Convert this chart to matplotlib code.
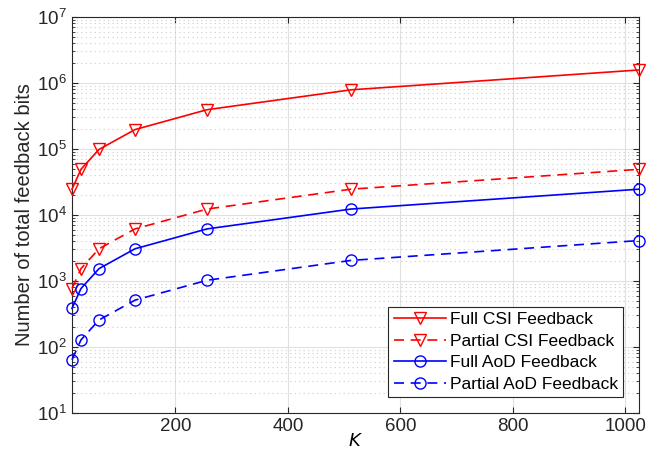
import numpy as np
import matplotlib
matplotlib.use('Agg')
import matplotlib.pyplot as plt
from matplotlib.ticker import LogLocator, NullFormatter

plt.rcParams['font.family'] = ['Liberation Sans', 'DejaVu Sans']

# Data
K = [16, 32, 64, 128, 256, 512, 1024]
full_csi = [24576, 49152, 98304, 196608, 393216, 786432, 1572864]
partial_csi = [768, 1536, 3072, 6144, 12288, 24576, 49152]
full_aod = [384, 768, 1536, 3072, 6144, 12288, 24576]
partial_aod = [64, 128, 256, 512, 1024, 2048, 4096]

fig = plt.figure(figsize=(6.58, 4.58), dpi=100)
ax = fig.add_axes([0.1094, 0.0983, 0.8617, 0.8647])

ms = 8
kw = dict(mfc='none', ms=ms, lw=1.2, clip_on=False, zorder=3)
ax.plot(K, full_csi, 'r-', marker='v', label='Full CSI Feedback', **kw)
ax.plot(K, partial_csi, 'r--', marker='v', dashes=(6, 4), label='Partial CSI Feedback', **kw)
ax.plot(K, full_aod, 'b-', marker='o', label='Full AoD Feedback', **kw)
ax.plot(K, partial_aod, 'b--', marker='o', dashes=(6, 4), label='Partial AoD Feedback', **kw)

ax.set_yscale('log')
ax.set_xlim(16, 1024)
ax.set_ylim(1e1, 1e7)
ax.set_xticks([200, 400, 600, 800, 1000])
ax.yaxis.set_major_locator(LogLocator(base=10, numticks=10))
ax.yaxis.set_minor_locator(LogLocator(base=10, subs=np.arange(2, 10), numticks=20))
ax.yaxis.set_minor_formatter(NullFormatter())

ax.grid(which='major', color='#e0e0e0', linestyle='-', linewidth=0.8)
ax.grid(which='minor', axis='y', color='#cccccc', linestyle=(0, (1, 3)), linewidth=0.8)
ax.set_axisbelow(True)

ax.tick_params(which='both', direction='in', top=True, right=True, labelsize=13.5, colors='#262626')
ax.tick_params(which='major', length=4)
ax.tick_params(which='minor', length=2)
for s in ax.spines.values():
    s.set_color('#262626')
    s.set_linewidth(0.8)

ax.set_xlabel('$K$', fontsize=13, labelpad=-1)
ax.set_ylabel('Number of total feedback bits', fontsize=14.5, color='#262626', labelpad=2)

leg = ax.legend(loc='lower right', fontsize=12.5, fancybox=False, framealpha=1,
                edgecolor='#262626', borderpad=0.3, labelspacing=0.38, handlelength=3.0,
                handletextpad=0.25, borderaxespad=0.9)
leg.get_frame().set_linewidth(0.8)

fig.savefig('out.png', dpi=100)
